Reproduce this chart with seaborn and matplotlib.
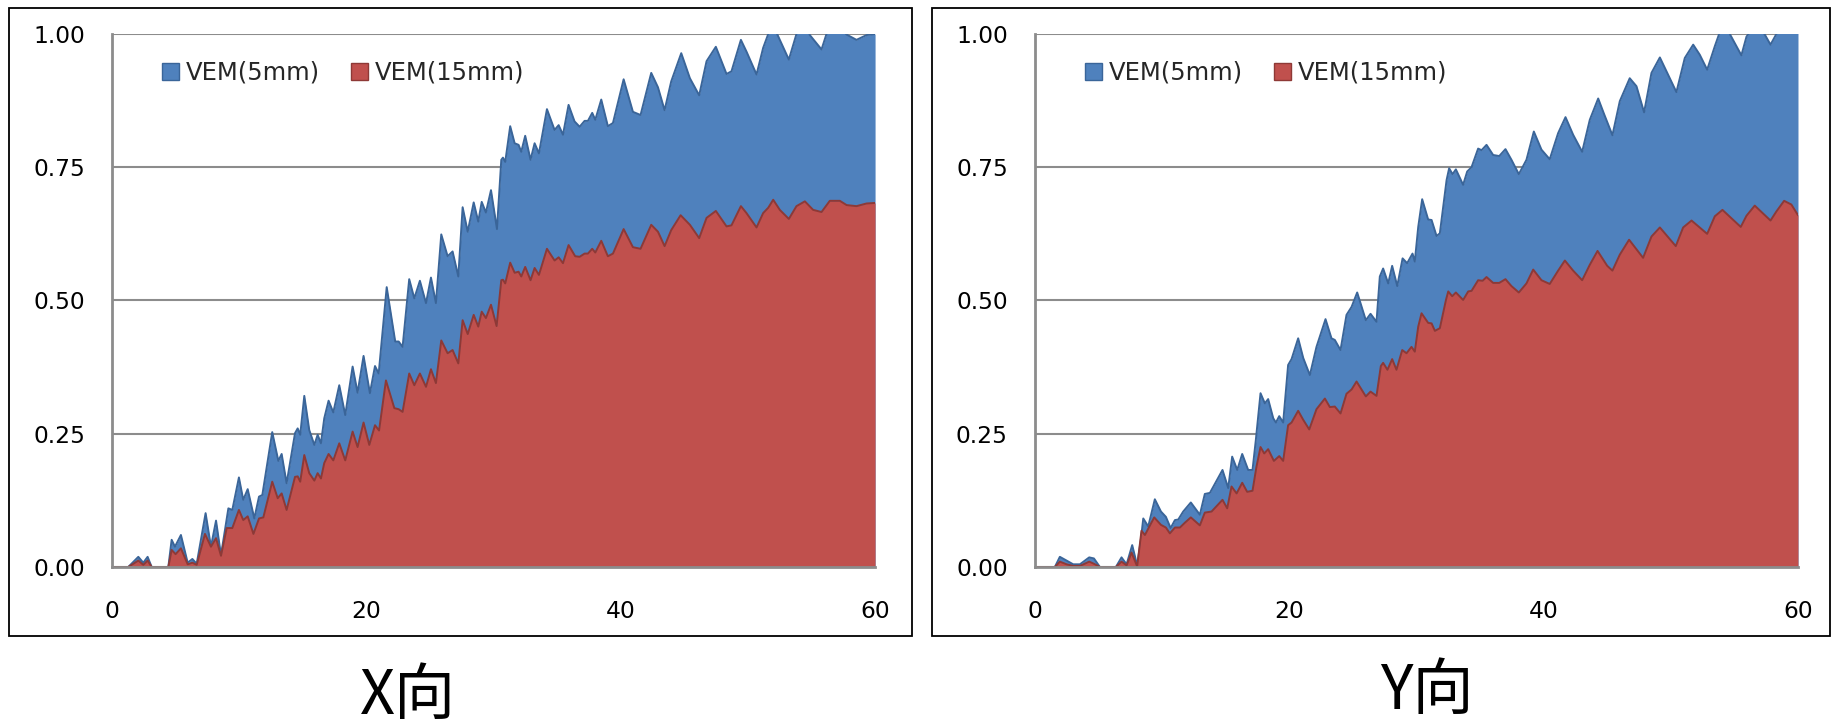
import matplotlib
matplotlib.use("Agg")
import matplotlib.pyplot as plt
from matplotlib.patches import Rectangle, Patch
import seaborn as sns

# ---------------- data ----------------
SERIES_NAMES = ["VEM(5mm)", "VEM(15mm)"]
PANEL_TITLES = ["X向", "Y向"]
X_TICKS = [0, 20, 40, 60]
Y_TICKS = [0.0, 0.25, 0.5, 0.75, 1.0]
Y_TICK_LABELS = ["0.00", "0.25", "0.50", "0.75", "1.00"]

# X direction, VEM(5mm)
x_dir_5_t = [0, 1.28, 2.07, 2.46, 2.8, 3.12, 4.43, 4.69, 4.95, 5.42, 5.95, 6.32, 6.66, 7.36, 7.78,
             8.18, 8.57, 9.15, 9.46, 9.98, 10.32, 10.67, 11.19, 11.56, 11.82, 12.6, 13.08, 13.34,
             13.73, 14.39, 14.6, 14.8, 15.12, 15.51, 15.91, 16.17, 16.43, 16.69, 17.03, 17.4, 17.87,
             18.34, 18.92, 19.31, 19.78, 20.28, 20.68, 20.97, 21.6, 22.27, 22.54, 22.85, 23.37,
             23.77, 24.21, 24.69, 25.08, 25.47, 25.89, 26.39, 26.78, 27.23, 27.57, 27.97, 28.44,
             28.8, 29.07, 29.4, 29.8, 30.27, 30.61, 30.74, 30.92, 31.31, 31.66, 31.97, 32.18, 32.49,
             32.91, 33.23, 33.57, 34.2, 34.8, 35.12, 35.46, 35.9, 36.37, 36.77, 37.16, 37.42, 37.76,
             38.0, 38.47, 38.99, 39.39, 40.23, 40.96, 41.56, 42.4, 42.93, 43.45, 43.97, 44.76,
             45.44, 46.17, 46.75, 47.48, 48.32, 48.71, 49.45, 49.89, 50.68, 51.2, 51.6, 51.95,
             52.3, 53.22, 53.82, 54.35, 54.87, 55.79, 56.18, 56.97, 57.76, 58.54, 59.33, 60]
x_dir_5_v = [0, 0, 0.019, 0.008, 0.019, 0, 0, 0.051, 0.038, 0.060, 0.008, 0.015, 0.006, 0.101, 0.038,
             0.087, 0.022, 0.110, 0.107, 0.168, 0.126, 0.146, 0.091, 0.132, 0.135, 0.253, 0.199, 0.212,
             0.157, 0.251, 0.260, 0.248, 0.321, 0.257, 0.229, 0.248, 0.232, 0.279, 0.312, 0.290, 0.341,
             0.285, 0.376, 0.327, 0.396, 0.326, 0.377, 0.363, 0.525, 0.423, 0.423, 0.413, 0.540,
             0.504, 0.537, 0.495, 0.543, 0.495, 0.624, 0.583, 0.592, 0.545, 0.675, 0.629, 0.684,
             0.648, 0.685, 0.665, 0.707, 0.634, 0.764, 0.768, 0.760, 0.827, 0.795, 0.792, 0.779, 0.809,
             0.764, 0.795, 0.776, 0.859, 0.820, 0.829, 0.811, 0.867, 0.836, 0.826, 0.837, 0.837, 0.852,
             0.839, 0.877, 0.827, 0.833, 0.915, 0.854, 0.848, 0.927, 0.900, 0.857, 0.911, 0.964,
             0.917, 0.885, 0.949, 0.976, 0.925, 0.930, 0.989, 0.967, 0.924, 0.974, 1.000, 1.020,
             1.000, 0.952, 1.000, 1.030, 0.998, 0.971, 1.000, 1.020, 0.999, 0.989, 0.998, 1.000]

# X direction, VEM(15mm)
x_dir_15_t = [0, 1.28, 2.07, 2.46, 2.8, 3.12, 4.43, 4.69, 5.0, 5.42, 5.95, 6.32, 6.66, 7.31, 7.78,
              8.18, 8.57, 9.02, 9.46, 9.98, 10.32, 10.67, 11.12, 11.56, 11.9, 12.6, 13.03, 13.34,
              13.73, 14.39, 14.6, 14.8, 15.12, 15.51, 15.91, 16.17, 16.43, 16.69, 17.03, 17.4, 17.87,
              18.34, 18.92, 19.31, 19.78, 20.23, 20.68, 21.0, 21.54, 22.2, 22.54, 22.85, 23.37,
              23.77, 24.21, 24.69, 25.08, 25.47, 25.89, 26.39, 26.78, 27.23, 27.57, 27.97, 28.44,
              28.8, 29.07, 29.4, 29.8, 30.24, 30.61, 30.74, 30.92, 31.31, 31.66, 31.97, 32.18, 32.49,
              32.91, 33.23, 33.57, 34.2, 34.8, 35.12, 35.46, 35.9, 36.42, 36.77, 37.16, 37.42, 37.76,
              38.0, 38.47, 38.99, 39.39, 40.23, 40.96, 41.56, 42.4, 42.93, 43.45, 43.97, 44.71,
              45.44, 46.17, 46.75, 47.48, 48.32, 48.71, 49.45, 49.89, 50.68, 51.2, 51.6, 51.99,
              52.51, 53.22, 53.82, 54.48, 55.13, 55.79, 56.44, 57.23, 57.76, 58.54, 59.33, 60]
x_dir_15_v = [0, 0, 0.012, 0.004, 0.012, 0, 0, 0.032, 0.024, 0.035, 0.005, 0.008, 0.004, 0.062, 0.038,
              0.054, 0.021, 0.073, 0.073, 0.107, 0.088, 0.095, 0.062, 0.091, 0.093, 0.160, 0.129, 0.138,
              0.107, 0.169, 0.170, 0.160, 0.210, 0.176, 0.162, 0.176, 0.166, 0.195, 0.212, 0.200, 0.232,
              0.200, 0.254, 0.225, 0.271, 0.229, 0.266, 0.256, 0.350, 0.298, 0.296, 0.291, 0.363,
              0.341, 0.363, 0.338, 0.371, 0.345, 0.425, 0.401, 0.407, 0.382, 0.463, 0.437, 0.473,
              0.451, 0.479, 0.467, 0.492, 0.452, 0.538, 0.539, 0.532, 0.571, 0.552, 0.554, 0.545, 0.563,
              0.538, 0.561, 0.548, 0.597, 0.575, 0.581, 0.570, 0.604, 0.583, 0.582, 0.588, 0.588, 0.597,
              0.590, 0.612, 0.583, 0.588, 0.634, 0.600, 0.597, 0.642, 0.629, 0.602, 0.632, 0.660,
              0.642, 0.617, 0.655, 0.668, 0.639, 0.641, 0.677, 0.664, 0.637, 0.664, 0.674, 0.689,
              0.670, 0.653, 0.677, 0.686, 0.670, 0.666, 0.687, 0.687, 0.679, 0.677, 0.682, 0.683]

# Y direction, VEM(5mm)
y_dir_5_t = [0, 1.57, 1.96, 2.49, 3.01, 3.54, 4.27, 4.64, 5.11, 6.37, 6.81, 7.21, 7.65, 8.04, 8.33,
             8.52, 8.91, 9.43, 9.91, 10.3, 10.67, 11.01, 11.27, 11.66, 12.26, 12.97, 13.36, 13.76,
             14.75, 15.2, 15.51, 15.91, 16.3, 16.77, 17.11, 17.37, 17.74, 18.08, 18.34, 18.74, 18.95,
             19.21, 19.52, 19.91, 20.18, 20.7, 21.1, 21.62, 22.14, 22.85, 23.32, 23.58, 24.03, 24.5,
             24.9, 25.34, 26.02, 26.39, 26.86, 27.12, 27.38, 27.78, 28.09, 28.49, 28.91, 29.27,
             29.69, 29.87, 30.14, 30.45, 30.92, 31.19, 31.58, 31.84, 32.37, 32.57, 32.84, 33.1,
             33.67, 33.99, 34.33, 34.85, 35.12, 35.51, 36.03, 36.51, 37.0, 37.47, 38.05, 38.65,
             39.23, 39.83, 40.48, 41.14, 41.72, 42.32, 43.03, 43.63, 44.29, 44.75, 45.41, 45.99,
             46.77, 47.3, 47.9, 48.48, 49.14, 49.66, 50.44, 51.1, 51.76, 52.28, 52.86, 53.46, 53.8,
             54.3, 54.64, 55.55, 55.95, 56.73, 57.39, 57.84, 58.3, 59.2, 60]
y_dir_5_v = [0, 0, 0.019, 0.012, 0.005, 0.005, 0.018, 0.016, 0, 0, 0.018, 0.005, 0.041, 0.003, 0.051,
             0.091, 0.076, 0.127, 0.104, 0.094, 0.073, 0.088, 0.089, 0.104, 0.121, 0.098, 0.137, 0.139,
             0.182, 0.148, 0.207, 0.182, 0.212, 0.182, 0.182, 0.238, 0.326, 0.307, 0.315, 0.279, 0.271,
             0.283, 0.271, 0.379, 0.390, 0.429, 0.392, 0.360, 0.413, 0.465, 0.429, 0.426, 0.407, 0.473,
             0.488, 0.515, 0.463, 0.475, 0.460, 0.545, 0.560, 0.532, 0.565, 0.527, 0.579, 0.570,
             0.588, 0.573, 0.638, 0.690, 0.652, 0.651, 0.621, 0.626, 0.726, 0.748, 0.737, 0.746,
             0.717, 0.742, 0.750, 0.785, 0.782, 0.792, 0.773, 0.771, 0.784, 0.764, 0.737, 0.764,
             0.817, 0.783, 0.765, 0.814, 0.844, 0.811, 0.779, 0.839, 0.879, 0.850, 0.810, 0.874,
             0.917, 0.902, 0.853, 0.927, 0.956, 0.930, 0.891, 0.955, 0.980, 0.961, 0.933, 0.977, 1.000,
             1.030, 1.000, 0.960, 0.995, 1.020, 0.999, 0.980, 1.000, 1.020, 1.010]

# Y direction, VEM(15mm)
y_dir_15_t = [0, 1.57, 1.96, 2.49, 3.01, 3.54, 4.27, 4.64, 5.11, 6.37, 6.81, 7.21, 7.6, 8.04, 8.38,
              8.65, 9.38, 9.91, 10.3, 10.61, 11.01, 11.4, 11.79, 12.26, 12.97, 13.36, 13.89, 14.75,
              15.12, 15.46, 15.86, 16.3, 16.69, 17.11, 17.42, 17.74, 18.03, 18.34, 18.79, 19.21,
              19.52, 19.91, 20.18, 20.7, 21.1, 21.57, 22.14, 22.8, 23.19, 23.58, 24.03, 24.5, 24.9,
              25.29, 26.02, 26.39, 26.86, 27.2, 27.38, 27.72, 28.09, 28.43, 28.88, 29.22, 29.61,
              29.87, 30.14, 30.4, 30.92, 31.19, 31.45, 31.84, 32.32, 32.5, 32.81, 33.1, 33.67, 34.07,
              34.33, 34.85, 35.2, 35.51, 36.03, 36.51, 37.0, 37.47, 38.05, 38.65, 39.18, 39.83, 40.48,
              41.14, 41.67, 42.32, 43.03, 43.63, 44.24, 45.0, 45.41, 45.99, 46.72, 47.82, 48.48,
              49.14, 50.39, 50.97, 51.63, 52.86, 53.46, 54.06, 55.5, 55.95, 56.6, 57.84, 58.3, 58.91,
              59.48, 60]
y_dir_15_v = [0, 0, 0.010, 0.005, 0.002, 0.002, 0.010, 0.006, 0, 0, 0.010, 0.003, 0.027, 0.001, 0.068,
              0.060, 0.093, 0.079, 0.074, 0.063, 0.074, 0.074, 0.083, 0.093, 0.078, 0.102, 0.104, 0.126,
              0.110, 0.151, 0.138, 0.158, 0.141, 0.143, 0.188, 0.225, 0.213, 0.221, 0.199, 0.208,
              0.199, 0.266, 0.271, 0.293, 0.276, 0.258, 0.296, 0.316, 0.300, 0.301, 0.288, 0.325, 0.333,
              0.348, 0.320, 0.329, 0.321, 0.377, 0.383, 0.370, 0.390, 0.370, 0.407, 0.401, 0.413,
              0.404, 0.451, 0.476, 0.458, 0.457, 0.443, 0.448, 0.501, 0.517, 0.508, 0.515, 0.501, 0.517,
              0.518, 0.538, 0.537, 0.544, 0.533, 0.533, 0.540, 0.527, 0.515, 0.532, 0.558, 0.538, 0.531,
              0.556, 0.575, 0.556, 0.538, 0.567, 0.593, 0.565, 0.556, 0.586, 0.614, 0.580, 0.620,
              0.637, 0.602, 0.637, 0.650, 0.625, 0.658, 0.670, 0.638, 0.659, 0.678, 0.650, 0.667, 0.687,
              0.680, 0.660]

PANEL_DATA = [
    ((x_dir_5_t, x_dir_5_v), (x_dir_15_t, x_dir_15_v)),
    ((y_dir_5_t, y_dir_5_v), (y_dir_15_t, y_dir_15_v)),
]

# ---------------- style ----------------
sns.set_theme(style="white")
plt.rcParams["font.family"] = ["DejaVu Sans", "Noto Sans CJK SC"]

BLUE, BLUE_EDGE = "#4F81BD", "#3A6599"
RED, RED_EDGE = "#C0504D", "#8E3936"
GRID = "#8C8C8C"
TICK_SIZE = 16.8

fig = plt.figure(figsize=(18.33, 7.28), dpi=100, facecolor="white")

axes_left = [0.0611, 0.5646]
frame_x = [(0.0049, 0.4929), (0.5087, 0.4894)]
title_pos = [(0.2226, 0.019), (0.7782, 0.026)]

for i, ((t5, v5), (t15, v15)) in enumerate(PANEL_DATA):
    # outer panel border
    fx, fw = frame_x[i]
    fig.add_artist(Rectangle((fx, 0.1264), fw, 0.8626, transform=fig.transFigure,
                             fill=False, edgecolor="black", linewidth=1.3))

    ax = fig.add_axes([axes_left[i], 0.2212, 0.4163, 0.7321])
    ax.set_facecolor("white")

    ax.fill_between(t5, v5, 0, color=BLUE, linewidth=0, zorder=2)
    sns.lineplot(x=t5, y=v5, ax=ax, color=BLUE_EDGE, linewidth=1.4,
                 estimator=None, sort=False, zorder=3)
    ax.fill_between(t15, v15, 0, color=RED, linewidth=0, zorder=4)
    sns.lineplot(x=t15, y=v15, ax=ax, color=RED_EDGE, linewidth=1.4,
                 estimator=None, sort=False, zorder=5)

    ax.set_xlim(0, 60)
    ax.set_ylim(0, 1.0)
    ax.set_xticks(X_TICKS)
    ax.set_xticklabels([str(v) for v in X_TICKS])
    ax.set_yticks(Y_TICKS)
    ax.set_yticklabels(Y_TICK_LABELS)
    ax.set_xlabel("")
    ax.set_ylabel("")

    ax.yaxis.grid(True, color=GRID, linewidth=1.5)
    ax.xaxis.grid(False)
    ax.set_axisbelow(True)

    for side in ("top", "right"):
        ax.spines[side].set_visible(False)
    for side in ("left", "bottom"):
        ax.spines[side].set_color(GRID)
        ax.spines[side].set_linewidth(2.0)
        ax.spines[side].set_zorder(6)

    ax.tick_params(axis="y", length=0, pad=19.5, labelsize=TICK_SIZE, labelcolor="black")
    ax.tick_params(axis="x", length=0, pad=23.5, labelsize=TICK_SIZE, labelcolor="black")

    handles = [Patch(facecolor=BLUE, edgecolor=BLUE_EDGE, linewidth=1.0),
               Patch(facecolor=RED, edgecolor=RED_EDGE, linewidth=1.0)]
    leg = ax.legend(handles, SERIES_NAMES, loc="center left",
                    bbox_to_anchor=(0.0655, 0.927), ncol=2, frameon=False,
                    fontsize=17.5, handlelength=0.7, handleheight=0.7,
                    handletextpad=0.3, columnspacing=1.25, borderpad=0,
                    borderaxespad=0)
    leg.set_zorder(10)

    tx, ty = title_pos[i]
    fig.text(tx, ty, PANEL_TITLES[i], ha="center", va="baseline", fontsize=44,
             family=["Noto Sans CJK SC", "DejaVu Sans"], color="black")

fig.savefig("out.png", dpi=100, facecolor="white")
